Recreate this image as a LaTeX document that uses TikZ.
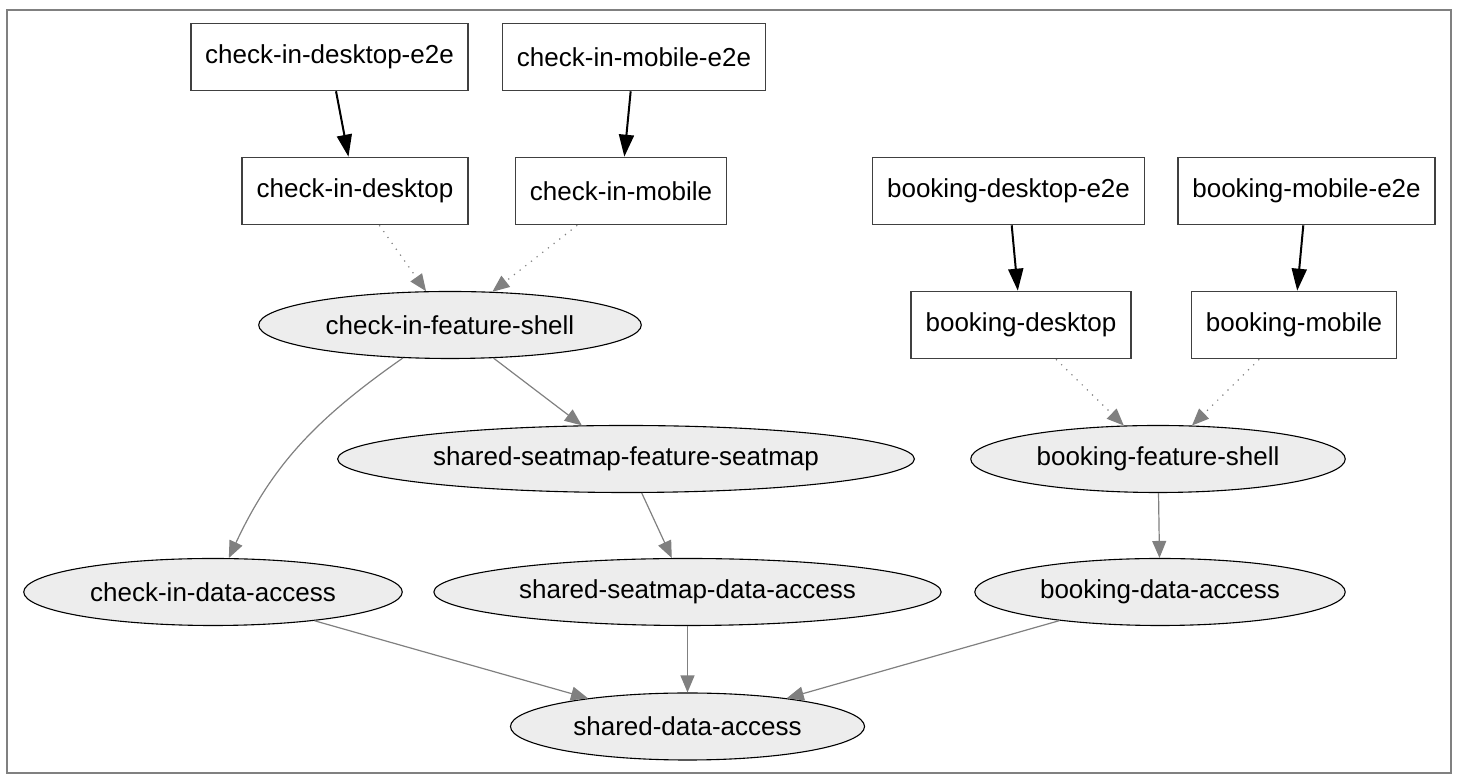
\documentclass[tikz,border=0pt]{standalone}
\usepackage{fontspec}
\setmainfont{Liberation Sans}
\usetikzlibrary{shapes.geometric,arrows.meta}

\begin{document}
\begin{tikzpicture}[x=0.5pt,y=0.5pt,
    app/.style={draw=black!75,line width=0.8pt,rectangle,minimum height=33.5pt,inner xsep=7.25pt,font=\fontsize{13}{15}\selectfont},
    lib/.style={draw=black,line width=0.55pt,fill=black!7,ellipse,minimum height=33.5pt,inner xsep=5.5pt,inner ysep=2pt,font=\fontsize{13}{15}\selectfont},
    e2e/.style={-{Triangle[length=11pt,width=7.5pt]},line width=1pt},
    lazy/.style={-{Triangle[length=8.5pt,width=7pt]},gray,line width=0.6pt,dash pattern=on 0.6pt off 3pt},
    dep/.style={-{Triangle[length=8.5pt,width=7pt]},gray,line width=0.6pt}]
    \useasboundingbox (0,0) rectangle (1460,780);
    \draw[gray,line width=1.3pt] (7,7) rectangle (1451,770);

    \node[app] (cde2e) at (329.5,723) {check-in-desktop-e2e};
    \node[app] (cme2e) at (634,723) {check-in-mobile-e2e};
    \node[app] (cd) at (355,589) {check-in-desktop};
    \node[app] (cm) at (621,589) {check-in-mobile};
    \node[app] (bde2e) at (1008.5,589) {booking-desktop-e2e};
    \node[app] (bme2e) at (1306.5,589) {booking-mobile-e2e};
    \node[app] (bd) at (1021,455) {booking-desktop};
    \node[app] (bm) at (1294,455) {booking-mobile};

    \node[lib] (cifs) at (450,455) {check-in-feature-shell};
    \node[lib] (ssfs) at (626,321) {shared-seatmap-feature-seatmap};
    \node[lib] (bfs) at (1158,321) {booking-feature-shell};
    \node[lib] (cida) at (213,188) {check-in-data-access};
    \node[lib] (ssda) at (687.5,188) {shared-seatmap-data-access};
    \node[lib] (bda) at (1160,188) {booking-data-access};
    \node[lib] (sda) at (687.5,53.5) {shared-data-access};

    \draw[e2e] (cde2e) -- (cd);
    \draw[e2e] (cme2e) -- (cm);
    \draw[e2e] (bde2e) -- (bd);
    \draw[e2e] (bme2e) -- (bm);
    \draw[lazy] (cd) -- (cifs);
    \draw[lazy] (cm) -- (cifs);
    \draw[lazy] (bd) -- (bfs);
    \draw[lazy] (bm) -- (bfs);
    \draw[dep] (cifs) to[out=-145,in=65] (cida);
    \draw[dep] (cifs) -- (ssfs);
    \draw[dep] (ssfs) -- (ssda);
    \draw[dep] (bfs) -- (bda);
    \draw[dep] (cida) -- (sda);
    \draw[dep] (ssda) -- (sda);
    \draw[dep] (bda) -- (sda);
\end{tikzpicture}
\end{document}
